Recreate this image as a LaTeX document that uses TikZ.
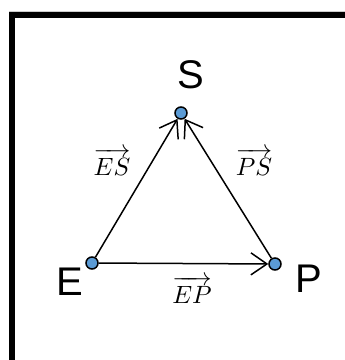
\documentclass[tikz,border=0pt]{standalone}
\usepackage{fontspec}
\setmainfont{Liberation Sans}
\usetikzlibrary{arrows.meta}
\definecolor{dotblue}{HTML}{5B9BD5}
\newcommand{\veclab}[1]{\scalebox{2.5}{$\overrightarrow{\rule{0pt}{8.2pt}#1}$}}
\tikzset{
  pt/.style={circle, draw=black, line width=1.5pt, fill=dotblue, inner sep=0pt, minimum size=12pt},
  bigletter/.style={font=\fontsize{40}{40}\selectfont, inner sep=0pt},
  veclabel/.style={inner sep=0pt},
  edge/.style={line width=1.5pt, -{Straight Barb[length=16pt, width=22pt, line width=1.5pt]}},
  frameline/.style={line width=6pt, black},
}
\begin{document}
\begin{tikzpicture}[x=1pt, y=-1pt]
\useasboundingbox (0,0) rectangle (345,360);
% frame
\draw[gray!40, line width=1pt] (9.5,360) -- (9.5,11.5) -- (345,11.5);
\draw[frameline] (12.5,360) -- (12.5,15) -- (345,15);
% dots
\node[pt] (S) at (181,113) {};
\node[pt] (E) at (92,263) {};
\node[pt] (P) at (275,264) {};
% letters
\node[bigletter] (lS) at (191,75) {S};
\node[bigletter] (lE) at (70,282) {E};
\node[bigletter] (lP) at (309,279) {P};
% edges
\draw[edge] (E) -- (S);
\draw[edge] (P) -- (S);
\draw[edge] (E) -- (P);
% vector labels
\node[veclabel] (vES) at (112,162) {\veclab{ES}};
\node[veclabel] (vPS) at (254,162) {\veclab{PS}};
\node[veclabel] (vEP) at (192,290) {\veclab{EP}};
\end{tikzpicture}
\end{document}
